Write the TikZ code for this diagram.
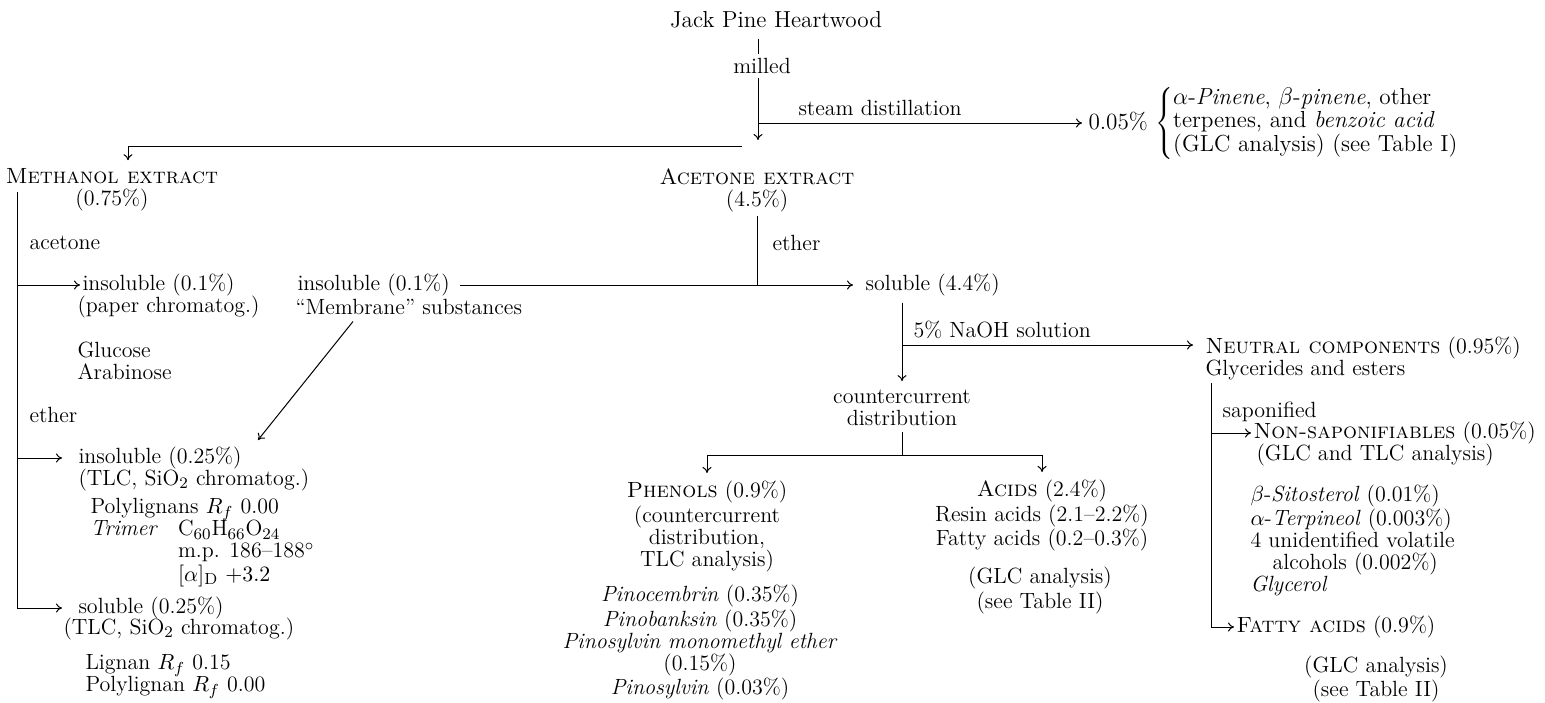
\documentclass[tikz,border=0pt]{standalone}
\usetikzlibrary{arrows.meta}
\newcommand\myfs{\fontsize{11}{11}\selectfont}
\newcommand\mybigfs{\fontsize{11.6}{11.6}\selectfont}
\begin{document}
\begin{tikzpicture}[x=0.5pt,y=-0.5pt, line width=0.5pt,
  >={To[length=3pt,width=4.5pt]},
  t/.style={inner sep=0pt, font=\myfs},
  tl/.style={t, anchor=west},
  ml/.style={t, anchor=west, align=left},
  mc/.style={t, align=center}]
\useasboundingbox (0,0) rectangle (1545,702);

% ---- top
\node[t, font=\mybigfs] (jack) at (776,20) {Jack Pine Heartwood};
\node[t] (milled) at (762,66) {milled};
\node[t] (sdlbl) at (880,108) {steam distillation};
\node[tl, font=\mybigfs] (steamres) at (1088,123) {0.05\% $\left\{\begin{tabular}{@{}l@{}}$\alpha$-\textit{Pinene}, $\beta$-\textit{pinene}, other\\ terpenes, and \textit{benzoic acid}\\ (GLC analysis) (see Table I)\end{tabular}\right.$};

% ---- methanol column
\node[mc] (meth) at (112,190) {\textsc{Methanol extract}\\(0.75\%)};
\node[tl] (acetone) at (29,243) {acetone};
\node[tl] (ins1) at (82,285) {insoluble (0.1\%)};
\node[tl] (ins1b) at (77,307) {(paper chromatog.)};
\node[ml] (sugars) at (77,360.5) {Glucose\\Arabinose};
\node[tl] (ether1) at (29,415) {ether};
\node[tl] (ins3) at (78,458) {insoluble (0.25\%)};
\node[tl] (ins3b) at (78,480) {(TLC, SiO$_2$ chromatog.)};
\node[tl] (poly) at (90,543) {\begin{tabular}{@{}l@{\hspace{10pt}}l@{}}\multicolumn{2}{@{}l}{Polylignans $R_f$ 0.00}\\ \textit{Trimer} & C$_{60}$H$_{66}$O$_{24}$\\ & m.p. 186--188$^\circ$\\ & $[\alpha]_{\mathrm{D}}$ $+3.2$\end{tabular}};
\node[tl] (sol2) at (78,608) {soluble (0.25\%)};
\node[tl] (sol2b) at (63,629) {(TLC, SiO$_2$ chromatog.)};
\node[ml] (lign) at (85,676.5) {Lignan $R_f$ 0.15\\Polylignan $R_f$ 0.00};

% ---- acetone column
\node[tl] (ins2) at (297,285) {insoluble (0.1\%)};
\node[tl] (memb) at (295,307) {``Membrane'' substances};
\node[mc] (acet) at (757,190) {\textsc{Acetone extract}\\(4.5\%)};
\node[tl] (ether2) at (772,243) {ether};
\node[tl] (sol44) at (865,285) {soluble (4.4\%)};
\node[tl] (naohlbl) at (913,330) {5\% NaOH solution};
\node[mc] (cc) at (902,407.5) {countercurrent\\distribution};
\node[mc] (phen) at (707,526.5) {\textsc{Phenols} (0.9\%)\\(countercurrent\\distribution,\\TLC analysis)};
\node[mc] (phenlist) at (700,642.5) {\textit{Pinocembrin} (0.35\%)\\\textit{Pinobanksin} (0.35\%)\\\textit{Pinosylvin monomethyl ether}\\(0.15\%)\\\textit{Pinosylvin} (0.03\%)};
\node[mc] (acid) at (1042,515.5) {\textsc{Acids} (2.4\%)\\Resin acids (2.1--2.2\%)\\Fatty acids (0.2--0.3\%)};
\node[mc] (acidglc) at (1040,590.5) {(GLC analysis)\\(see Table II)};

% ---- neutral column
\node[tl] (neut) at (1205,348) {\textsc{Neutral components} (0.95\%)};
\node[tl] (glyc) at (1205,370) {Glycerides and esters};
\node[tl] (sapon) at (1222,412) {saponified};
\node[tl] (nonsap) at (1253,433) {\textsc{Non-saponifiables} (0.05\%)};
\node[tl] (nonsapb) at (1256,455) {(GLC and TLC analysis)};
\node[ml] (sterols) at (1250,540.5) {$\beta$-\textit{Sitosterol} (0.01\%)\\$\alpha$-\textit{Terpineol} (0.003\%)\\4 unidentified volatile\\\hspace*{11pt}alcohols (0.002\%)\\\textit{Glycerol}};
\node[tl] (fatty) at (1236,627) {\textsc{Fatty acids} (0.9\%)};
\node[mc] (fattyglc) at (1376,679) {(GLC analysis)\\(see Table II)};

% ---- coordinates
\coordinate (stem) at (758,0);
\coordinate (split) at (758,140);
\coordinate (sd) at (758,123);
\coordinate (lb) at (742,146);
\coordinate (marr) at (128,0);
\coordinate (mvtop) at (17,192);
\coordinate (dstart) at (358,0);
\coordinate (dend) at (258,440);
\coordinate (ccx) at (902,0);
\coordinate (naoh) at (902,345);
\coordinate (cs) at (902,455);
\coordinate (nvtop) at (1211,383);

% ---- connectors
\draw[shorten <=5pt, shorten >=2pt] (jack.south -| stem) -- (milled.north -| stem);
\draw[->, shorten <=2pt] (milled.south -| stem) -- (split);
\draw[->, shorten >=3pt] (sd) -- (sd -| steamres.west);
\draw[->, shorten >=4pt] (lb) -| (meth.north -| marr);
\draw[->, shorten >=8pt] (mvtop) |- (sol2.west);
\draw[->, shorten >=1pt] (mvtop |- ins1.west) -- (ins1.west);
\draw[->, shorten >=8pt] (mvtop |- ins3.west) -- (ins3.west);
\draw[shorten <=2pt] (acet.south) -- (acet.south |- ins2.east);
\draw[->, shorten <=5pt, shorten >=6pt] (ins2.east) -- (ins2.east -| sol44.west);
\draw[->, shorten <=3pt, shorten >=4pt] (sol44.south -| ccx) -- (cc.north);
\draw[->, shorten >=6pt] (naoh) -- (naoh -| neut.west);
\draw[shorten <=3pt] (cc.south) -- (cs);
\draw[->, shorten >=4pt] (cs) -| (phen.north);
\draw[->, shorten >=4pt] (cs) -| (acid.north);
\draw[->, shorten >=1pt] (nvtop) |- (fatty.west);
\draw[->, shorten >=1pt] (nvtop |- nonsap.west) -- (nonsap.west);
\draw[->, shorten <=4pt] (memb.south -| dstart) -- (dend);
\end{tikzpicture}
\end{document}
